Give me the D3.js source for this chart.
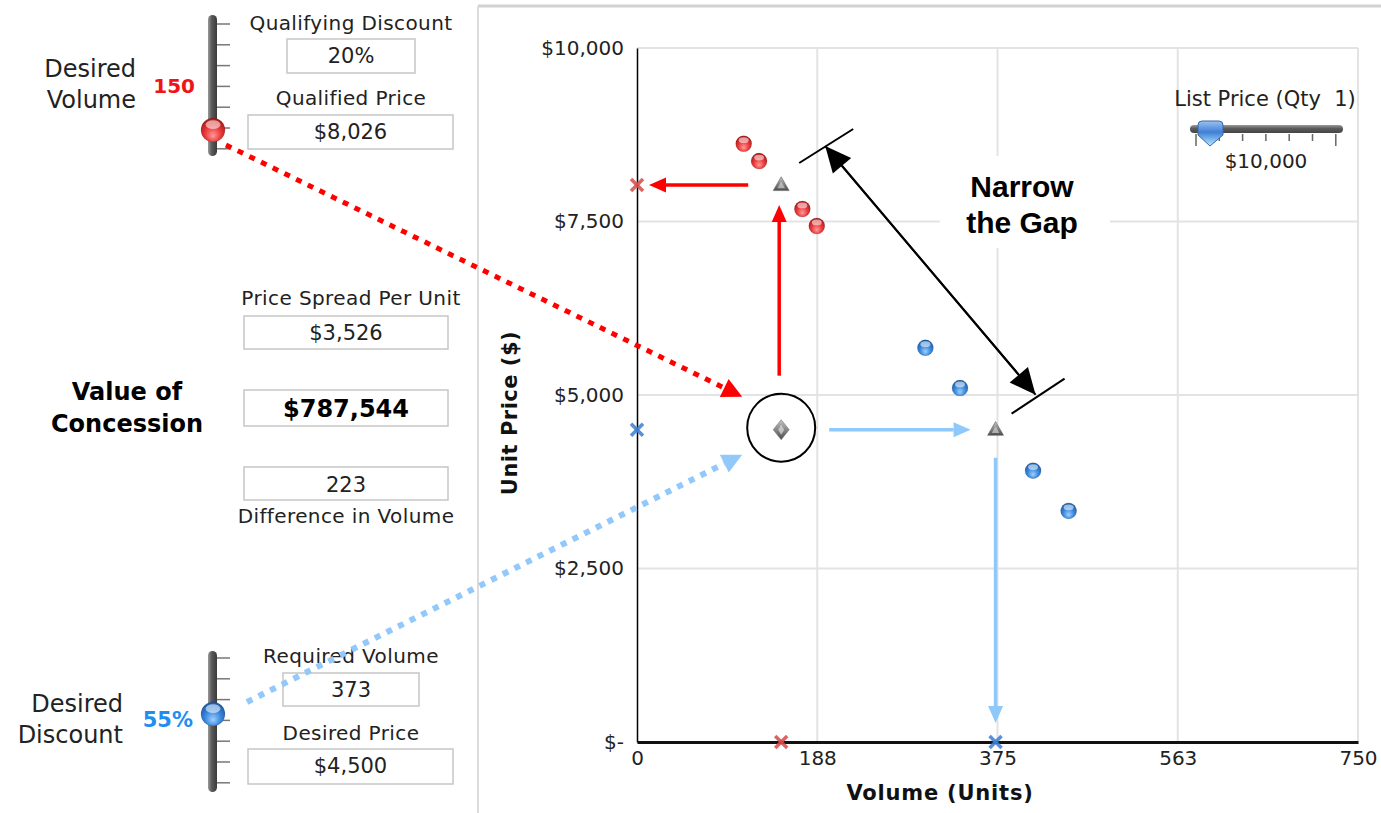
<!DOCTYPE html>
<html>
<head>
<meta charset="utf-8">
<script src="https://cdnjs.cloudflare.com/ajax/libs/d3/7.8.5/d3.min.js"></script>
<style>
    body { margin: 0; background: #fff; }
    svg { display: block; font-family: "DejaVu Sans", Verdana, sans-serif; }
</style>
</head>
<body>
<div id="chart"></div>
<script>
'use strict';

var redVolume = [111, 127, 172, 187];
var redPrice = [8620, 8370, 7680, 7435];
var blueVolume = [300, 336, 412, 449];
var bluePrice = [5680, 5100, 3910, 3330];

var xTickValues = [0, 187.5, 375, 562.5, 750];
var xTickLabels = ['0', '188', '375', '563', '750'];
var yTickValues = [0, 2500, 5000, 7500, 10000];
var yTickLabels = ['$-', '$2,500', '$5,000', '$7,500', '$10,000'];

var desiredVolume = 150;
var qualifiedPrice = 8026;
var requiredVolume = 373;
var desiredPrice = 4500;

var topLabels = ['Qualifying Discount', 'Qualified Price'];
var topValues = ['20%', '$8,026'];
var midLabels = ['Price Spread Per Unit', 'Difference in Volume'];
var midValues = ['$3,526', '$787,544', '223'];
var bottomLabels = ['Required Volume', 'Desired Price'];
var bottomValues = ['373', '$4,500'];


var settings = {width: 1381, height: 813},
    svg, defs, x, y;

var buildScales = function(){
    x = d3.scaleLinear().domain([0, 750]).range([637, 1358]);
    y = d3.scaleLinear().domain([0, 10000]).range([742, 48]);
};

var addGradients = function(){
    defs = svg.append('defs');

    var radial = function(id, stops){
        var g = defs.append('radialGradient').attr('id', id)
            .attr('cx', '50%').attr('cy', '62%').attr('r', '60%')
            .attr('fx', '50%').attr('fy', '75%');
        stops.forEach(function(s){
            g.append('stop').attr('offset', s[0]).attr('stop-color', s[1]);
        });
    };
    radial('redBall', [['0%', '#ff9a9a'], ['55%', '#ea3a3a'], ['100%', '#a81818']]);
    radial('blueBall', [['0%', '#9fd0ff'], ['55%', '#3a88dc'], ['100%', '#1d5aa6']]);

    var linear = function(id, x2, y2, stops){
        var g = defs.append('linearGradient').attr('id', id)
            .attr('x1', 0).attr('y1', 0).attr('x2', x2).attr('y2', y2);
        stops.forEach(function(s){
            g.append('stop').attr('offset', s[0]).attr('stop-color', s[1]);
        });
    };
    linear('barV', 1, 0, [['0%', '#9a9a9a'], ['40%', '#5a5a5a'], ['100%', '#3a3a3a']]);
    linear('barH', 0, 1, [['0%', '#9a9a9a'], ['45%', '#5a5a5a'], ['100%', '#444']]);
    linear('grayMark', 0, 1, [['0%', '#c4c4c4'], ['100%', '#4a4a4a']]);
    linear('pointer', 0, 1, [['0%', '#9cc2f0'], ['45%', '#3f7fd6'], ['100%', '#b8ecff']]);
};

var ball = function(g, cx, cy, r, fill){
    g.append('circle').attr('cx', cx).attr('cy', cy).attr('r', r)
        .attr('fill', 'url(#' + fill + ')')
        .attr('stroke', 'rgba(0,0,0,0.15)').attr('stroke-width', 0.8);
    g.append('ellipse').attr('cx', cx).attr('cy', cy - r * 0.45)
        .attr('rx', r * 0.62).attr('ry', r * 0.36)
        .attr('fill', '#fff').attr('opacity', 0.55);
};

// line with a filled head at (x2, y2)
var arrow = function(g, x1, y1, x2, y2, color, width, headLen, headW, dash){
    var dx = x2 - x1, dy = y2 - y1,
        len = Math.sqrt(dx * dx + dy * dy),
        ux = dx / len, uy = dy / len,
        bx = x2 - ux * headLen, by = y2 - uy * headLen;
    g.append('line')
        .attr('x1', x1).attr('y1', y1).attr('x2', bx).attr('y2', by)
        .attr('stroke', color).attr('stroke-width', width)
        .attr('stroke-dasharray', dash || null);
    g.append('polygon')
        .attr('points', [
            [x2, y2],
            [bx - uy * headW / 2, by + ux * headW / 2],
            [bx + uy * headW / 2, by - ux * headW / 2]
        ].join(' '))
        .attr('fill', color);
};

var buildFrame = function(){
    svg.append('line').attr('x1', 478).attr('x2', 1381).attr('y1', 6).attr('y2', 6)
        .attr('stroke', '#d2d2d2').attr('stroke-width', 3);
    svg.append('line').attr('x1', 478).attr('x2', 478).attr('y1', 6).attr('y2', 813)
        .attr('stroke', '#dcdcdc').attr('stroke-width', 2);
};

var buildGrid = function(){
    var grid = svg.append('g').attr('class', 'grid');
    grid.selectAll('.vgrid')
        .data(xTickValues.slice(1))
        .enter()
        .append('line')
        .attr('class', 'vgrid')
        .attr('x1', x).attr('x2', x)
        .attr('y1', y(10000)).attr('y2', y(0))
        .attr('stroke', '#e3e3e3').attr('stroke-width', 2);
    grid.selectAll('.hgrid')
        .data(yTickValues.slice(1))
        .enter()
        .append('line')
        .attr('class', 'hgrid')
        .attr('x1', x(0)).attr('x2', x(750))
        .attr('y1', y).attr('y2', y)
        .attr('stroke', '#e3e3e3').attr('stroke-width', 2);
};

var buildAxes = function(){
    var yAxis = d3.axisLeft(y)
        .tickValues(yTickValues)
        .tickFormat(function(d, i){ return yTickLabels[i]; })
        .tickSize(0).tickPadding(13);
    var xAxis = d3.axisBottom(x)
        .tickValues(xTickValues)
        .tickFormat(function(d, i){ return xTickLabels[i]; })
        .tickSize(0).tickPadding(9);

    var gy = svg.append('g').attr('transform', 'translate(' + x(0) + ',0)').call(yAxis);
    gy.select('.domain').attr('stroke', '#000').attr('stroke-width', 1.5);

    var gx = svg.append('g').attr('transform', 'translate(0,' + y(0) + ')').call(xAxis);
    gx.select('.domain').attr('stroke', '#111').attr('stroke-width', 3);

    svg.selectAll('.tick text')
        .attr('font-family', '"DejaVu Sans", Verdana, sans-serif')
        .attr('font-size', 20).attr('fill', '#222');

    svg.append('text')
        .attr('x', 940).attr('y', 800)
        .attr('text-anchor', 'middle')
        .attr('font-size', 21).attr('font-weight', 'bold').attr('fill', '#111')
        .attr('letter-spacing', 0.8)
        .text('Volume (Units)');
    svg.append('text')
        .attr('transform', 'translate(517,413) rotate(-90)')
        .attr('text-anchor', 'middle')
        .attr('font-size', 21).attr('font-weight', 'bold').attr('fill', '#111')
        .attr('letter-spacing', 0.5)
        .text('Unit Price ($)');
};

var buildAnnotations = function(){
    var g = svg.append('g').attr('class', 'notes');
    var qx = x(desiredVolume), qy = y(qualifiedPrice),
        rx = x(requiredVolume), ry = y(desiredPrice);

    // Narrow the Gap label sits on a white patch over the grid
    g.append('rect').attr('x', 940).attr('y', 156).attr('width', 170).attr('height', 92)
        .attr('fill', '#fff');
    g.selectAll('.gap-text')
        .data(['Narrow', 'the Gap'])
        .enter()
        .append('text')
        .attr('class', 'gap-text')
        .attr('x', 1022)
        .attr('y', function(d, i){ return 197 + i * 36; })
        .attr('text-anchor', 'middle')
        .attr('font-family', '"Liberation Sans", Arial, sans-serif')
        .attr('font-size', 30).attr('font-weight', 'bold').attr('fill', '#000')
        .text(function(d){ return d; });

    // black double arrow with end bars
    var a1 = [qx + 44, qy - 39], a2 = [rx + 40, ry - 35];
    arrow(g, a1[0], a1[1], a2[0], a2[1], '#000', 2, 26, 24);
    arrow(g, a2[0], a2[1], a1[0], a1[1], '#000', 2, 26, 24);
    g.append('line').attr('x1', a1[0] - 26).attr('y1', a1[1] + 17)
        .attr('x2', a1[0] + 28).attr('y2', a1[1] - 17)
        .attr('stroke', '#000').attr('stroke-width', 2);
    g.append('line').attr('x1', a2[0] - 24).attr('y1', a2[1] + 19)
        .attr('x2', a2[0] + 29).attr('y2', a2[1] - 16)
        .attr('stroke', '#000').attr('stroke-width', 2);

    // red path: qualified price
    arrow(g, qx - 33, qy, x(0) + 12, qy, '#ff0000', 3.5, 17, 15);
    arrow(g, qx - 2, ry - 54, qx - 2, qy + 20, '#ff0000', 3.5, 17, 15);

    // blue path: required volume
    arrow(g, qx + 48, ry, rx - 25, ry, '#8fc8fa', 3.5, 17, 15);
    arrow(g, rx, ry + 28, rx, y(0) - 19, '#8fc8fa', 3.5, 17, 15);

    g.append('circle').attr('cx', qx).attr('cy', ry - 2).attr('r', 34)
        .attr('fill', 'none').attr('stroke', '#000').attr('stroke-width', 2);

    // dotted links from the sliders
    arrow(g, 226, 145, qx - 39, ry - 33, '#ff0000', 5, 20, 20, '6,7');
    arrow(g, 247, 702, qx - 39, ry + 25, '#92c8fa', 6, 20, 20, '6,7');
};

var crossMark = function(g, cx, cy, color){
    [[-6, -6, 6, 6], [-6, 6, 6, -6]].forEach(function(s){
        g.append('line')
            .attr('x1', cx + s[0]).attr('y1', cy + s[1])
            .attr('x2', cx + s[2]).attr('y2', cy + s[3])
            .attr('stroke', color).attr('stroke-width', 3.5).attr('opacity', 0.85);
    });
};

var buildPoints = function(){
    var g = svg.append('g').attr('class', 'points');

    redVolume.forEach(function(v, i){
        ball(g, x(v), y(redPrice[i]), 8, 'redBall');
    });
    blueVolume.forEach(function(v, i){
        ball(g, x(v), y(bluePrice[i]), 8, 'blueBall');
    });

    var tri = d3.symbol().type(d3.symbolTriangle).size(110);
    var triInner = d3.symbol().type(d3.symbolTriangle).size(25);
    [[desiredVolume, qualifiedPrice], [requiredVolume, desiredPrice]].forEach(function(p){
        var t = 'translate(' + x(p[0]) + ',' + (y(p[1]) + 1) + ')';
        g.append('path').attr('d', tri).attr('transform', t)
            .attr('fill', 'url(#grayMark)').attr('stroke', '#666').attr('stroke-width', 0.6);
        g.append('path').attr('d', triInner).attr('transform', t)
            .attr('fill', '#ddd').attr('opacity', 0.6);
    });

    g.append('path')
        .attr('d', 'M0,-10L8,0L0,10L-8,0Z')
        .attr('transform', 'translate(' + x(desiredVolume) + ',' + y(desiredPrice) + ')')
        .attr('fill', 'url(#grayMark)').attr('stroke', '#777').attr('stroke-width', 0.6);
    g.append('path')
        .attr('d', 'M0,-5L3,0L0,5L-3,0Z')
        .attr('transform', 'translate(' + x(desiredVolume) + ',' + y(desiredPrice) + ')')
        .attr('fill', '#ddd').attr('opacity', 0.7);

    crossMark(g, x(0), y(qualifiedPrice), '#d84a4a');
    crossMark(g, x(desiredVolume), y(0), '#d84a4a');
    crossMark(g, x(0), y(desiredPrice), '#3a7fd0');
    crossMark(g, x(requiredVolume), y(0), '#3a7fd0');
};

var buildListSlider = function(){
    var g = svg.append('g').attr('class', 'list-price');
    g.append('text').attr('x', 1265).attr('y', 106).attr('text-anchor', 'middle')
        .attr('font-size', 21).attr('fill', '#222').text('List Price (Qty  1)')
        .attr('xml:space', 'preserve');
    g.append('rect').attr('x', 1190).attr('y', 125).attr('width', 153).attr('height', 8)
        .attr('rx', 4).attr('fill', 'url(#barH)');
    g.selectAll('.lt')
        .data(d3.range(7))
        .enter()
        .append('line')
        .attr('class', 'lt')
        .attr('x1', function(d){ return 1196 + d * 23.3; })
        .attr('x2', function(d){ return 1196 + d * 23.3; })
        .attr('y1', 134)
        .attr('y2', function(d){ return d === 0 || d === 6 ? 146 : 141; })
        .attr('stroke', '#666').attr('stroke-width', 1.5);
    g.append('path')
        .attr('d', 'M1198,125Q1198,121 1202,121L1219,121Q1223,121 1223,125L1223,135L1210,146L1198,135Z')
        .attr('fill', 'url(#pointer)').attr('stroke', '#3568b0').attr('stroke-width', 1);
    g.append('text').attr('x', 1266).attr('y', 168).attr('text-anchor', 'middle')
        .attr('font-size', 20).attr('fill', '#222').text('$10,000');
};

var vSlider = function(g, top, bottom, tickStart, knobY, fill){
    g.append('rect').attr('x', 208).attr('y', top).attr('width', 9)
        .attr('height', bottom - top).attr('rx', 4.5).attr('fill', 'url(#barV)');
    g.selectAll('.st' + top)
        .data(d3.range(7))
        .enter()
        .append('line')
        .attr('x1', 217).attr('x2', 230)
        .attr('y1', function(d){ return tickStart + d * 20.8; })
        .attr('y2', function(d){ return tickStart + d * 20.8; })
        .attr('stroke', '#777').attr('stroke-width', 1.5);
    ball(g, 213, knobY, 12, fill);
};

var field = function(g, label, labelY, value, bx, by, bw, bh, valueY, bold){
    if (label) {
        g.append('text').attr('x', 351).attr('y', labelY).attr('text-anchor', 'middle')
            .attr('font-size', 20).attr('letter-spacing', 0.4).attr('fill', '#222').text(label);
    }
    g.append('rect').attr('x', bx).attr('y', by).attr('width', bw).attr('height', bh)
        .attr('fill', '#fff').attr('stroke', '#c6c6c6').attr('stroke-width', 1.5);
    g.append('text').attr('x', bx + bw / 2).attr('y', valueY).attr('text-anchor', 'middle')
        .attr('font-size', bold ? 24 : 21).attr('font-weight', bold ? 'bold' : 'normal')
        .attr('fill', bold ? '#000' : '#222').text(value);
};

var buildPanel = function(){
    var g = svg.append('g').attr('class', 'panel');

    vSlider(g, 15, 156, 24, 130, 'redBall');
    vSlider(g, 651, 792, 658, 714, 'blueBall');

    g.selectAll('.dv')
        .data(['Desired', 'Volume'])
        .enter()
        .append('text')
        .attr('x', 136).attr('y', function(d, i){ return 77 + i * 31; })
        .attr('text-anchor', 'end').attr('font-size', 24).attr('fill', '#222')
        .text(function(d){ return d; });
    g.append('text').attr('x', 195).attr('y', 93).attr('text-anchor', 'end')
        .attr('font-size', 20).attr('font-weight', 'bold').attr('fill', '#f01414')
        .text(desiredVolume);

    g.selectAll('.dd')
        .data(['Desired', 'Discount'])
        .enter()
        .append('text')
        .attr('x', 123).attr('y', function(d, i){ return 712 + i * 31; })
        .attr('text-anchor', 'end').attr('font-size', 24).attr('fill', '#222')
        .text(function(d){ return d; });
    g.append('text').attr('x', 193).attr('y', 727).attr('text-anchor', 'end')
        .attr('font-size', 21).attr('font-weight', 'bold').attr('fill', '#1e8ef0')
        .text('55%');

    g.selectAll('.vc')
        .data(['Value of', 'Concession'])
        .enter()
        .append('text')
        .attr('x', 127).attr('y', function(d, i){ return 400 + i * 32; })
        .attr('text-anchor', 'middle').attr('font-size', 24).attr('font-weight', 'bold')
        .attr('fill', '#000')
        .text(function(d){ return d; });

    field(g, topLabels[0], 30, topValues[0], 287, 39, 128, 34, 63);
    field(g, topLabels[1], 105, topValues[1], 248, 115, 205, 34, 139);

    field(g, midLabels[0], 305, midValues[0], 244, 316, 204, 33, 340);
    field(g, null, 0, midValues[1], 244, 390, 204, 36, 417, true);
    field(g, null, 0, midValues[2], 244, 467, 204, 33, 492);
    g.append('text').attr('x', 346).attr('y', 523).attr('text-anchor', 'middle')
        .attr('font-size', 20).attr('letter-spacing', 0.4).attr('fill', '#222').text(midLabels[1]);

    field(g, bottomLabels[0], 663, bottomValues[0], 283, 673, 136, 33, 697);
    field(g, bottomLabels[1], 740, bottomValues[1], 248, 749, 205, 35, 773);
};

var buildGraph = function(){
    svg = d3.select('#chart').append('svg')
        .attr('width', settings.width)
        .attr('height', settings.height);

    addGradients();
    buildScales();
    buildFrame();
    buildGrid();
    buildAxes();
    buildListSlider();
    buildPanel();
    buildAnnotations();
    buildPoints();
};
buildGraph();
</script>
</body>
</html>
